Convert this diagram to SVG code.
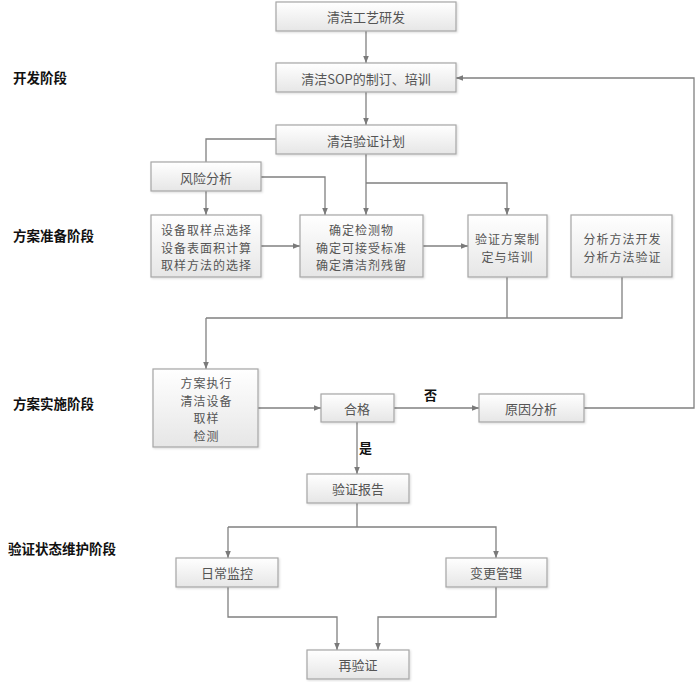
<svg xmlns="http://www.w3.org/2000/svg" width="700" height="682" viewBox="0 0 700 682">
<defs>
<linearGradient id="g" x1="0" y1="0" x2="0" y2="1">
<stop offset="0" stop-color="#ffffff"/>
<stop offset="1" stop-color="#e6e6e6"/>
</linearGradient>
<filter id="sh" x="-10%" y="-10%" width="120%" height="130%">
<feDropShadow dx="1" dy="1" stdDeviation="0.8" flood-color="#000" flood-opacity="0.15"/>
</filter>
<marker id="ah" viewBox="0 0 8 8" refX="8" refY="4" markerWidth="7" markerHeight="7" markerUnits="userSpaceOnUse" orient="auto">
<path d="M0,0.8 L8,4 L0,7.2 Z" fill="#7a7a7a"/>
</marker>
</defs>
<style>
.box{fill:url(#g);stroke:#a6a6a6;stroke-width:1.2;filter:url(#sh)}
.t{font-family:"Noto Sans CJK SC","Liberation Sans",sans-serif;font-size:13px;fill:#555;text-anchor:middle;dominant-baseline:central}
.m{font-family:"Noto Sans CJK SC","Liberation Sans",sans-serif;font-size:12px;letter-spacing:1px;fill:#555;text-anchor:middle;dominant-baseline:central}
.stage{font-family:"Noto Sans CJK SC","Liberation Sans",sans-serif;font-size:13.5px;font-weight:bold;fill:#111}
.yn{font-family:"Noto Sans CJK SC","Liberation Sans",sans-serif;font-size:13px;font-weight:bold;fill:#111}
.c{fill:none;stroke:#808080;stroke-width:1.3}
.a{marker-end:url(#ah)}
</style>
<rect width="700" height="682" fill="#fff"/>

<g id="stages">
<text class="stage" x="13" y="83">开发阶段</text>
<text class="stage" x="13" y="241">方案准备阶段</text>
<text class="stage" x="13" y="409">方案实施阶段</text>
<text class="stage" x="8" y="554">验证状态维护阶段</text>
</g>

<g id="connectors">
<path class="c a" d="M366,31 V63"/>
<path class="c a" d="M366,92 V125"/>
<path class="c" d="M276,139 H206 V162"/>
<path class="c a" d="M366,154 V215"/>
<path class="c a" d="M366,183 H507 V215"/>
<path class="c a" d="M261,177 H325 V215"/>
<path class="c a" d="M206,191 V215"/>
<path class="c a" d="M261,246 H300"/>
<path class="c a" d="M423,246 H468"/>
<path class="c" d="M507,277 V318"/>
<path class="c" d="M622,277 V318 H206"/>
<path class="c a" d="M206,318 V369"/>
<path class="c a" d="M258,408 H321"/>
<path class="c a" d="M394,408 H479"/>
<path class="c a" d="M584,408 H694 V78 H456"/>
<path class="c a" d="M357,422 V474"/>
<path class="c" d="M357,503 V527"/>
<path class="c a" d="M228,527 V558"/>
<path class="c a" d="M228,527 H496 V558"/>
<path class="c a" d="M228,587 V617 H337 V650"/>
<path class="c a" d="M496,587 V617 H378 V650"/>
<text class="yn" x="424" y="400">否</text>
<text class="yn" x="359" y="453">是</text>
</g>

<g id="n1"><rect class="box" x="276" y="2" width="180" height="29"/><text class="t" x="366" y="16.5">清洁工艺研发</text></g>
<g id="n2"><rect class="box" x="276" y="63" width="180" height="29"/><text class="t" x="366" y="78">清洁SOP的制订、培训</text></g>
<g id="n3"><rect class="box" x="276" y="125" width="180" height="29"/><text class="t" x="366" y="140">清洁验证计划</text></g>
<g id="n4"><rect class="box" x="151" y="162" width="110" height="29"/><text class="t" x="206" y="177">风险分析</text></g>
<g id="n5"><rect class="box" x="151" y="215" width="110" height="62"/>
<text class="m" x="206" y="229"><tspan x="206.5">设备取样点选择</tspan><tspan x="206.5" dy="17.5">设备表面积计算</tspan><tspan x="206.5" dy="17.5">取样方法的选择</tspan></text></g>
<g id="n6"><rect class="box" x="300" y="215" width="123" height="62"/>
<text class="m" x="361" y="229"><tspan x="361.5">确定检测物</tspan><tspan x="361.5" dy="17.5">确定可接受标准</tspan><tspan x="361.5" dy="17.5">确定清洁剂残留</tspan></text></g>
<g id="n7"><rect class="box" x="468" y="215" width="79" height="62"/>
<text class="m" x="507" y="238"><tspan x="507.5">验证方案制</tspan><tspan x="507.5" dy="18">定与培训</tspan></text></g>
<g id="n8"><rect class="box" x="571" y="215" width="101" height="62"/>
<text class="m" x="622" y="238"><tspan x="622.5">分析方法开发</tspan><tspan x="622.5" dy="18">分析方法验证</tspan></text></g>
<g id="n9"><rect class="box" x="153" y="369" width="105" height="78"/>
<text class="m" x="206" y="382"><tspan x="206.5">方案执行</tspan><tspan x="206.5" dy="17.7">清洁设备</tspan><tspan x="206.5" dy="17.7">取样</tspan><tspan x="206.5" dy="17.7">检测</tspan></text></g>
<g id="n10"><rect class="box" x="321" y="394" width="73" height="28"/><text class="t" x="357" y="408">合格</text></g>
<g id="n11"><rect class="box" x="479" y="394" width="105" height="28"/><text class="t" x="531" y="408">原因分析</text></g>
<g id="n12"><rect class="box" x="307" y="474" width="102" height="29"/><text class="t" x="358" y="488.5">验证报告</text></g>
<g id="n13"><rect class="box" x="176" y="558" width="102" height="29"/><text class="t" x="227" y="572.5">日常监控</text></g>
<g id="n14"><rect class="box" x="446" y="558" width="101" height="29"/><text class="t" x="496" y="572.5">变更管理</text></g>
<g id="n15"><rect class="box" x="307" y="650" width="102" height="29"/><text class="t" x="358" y="664.5">再验证</text></g>
</svg>
